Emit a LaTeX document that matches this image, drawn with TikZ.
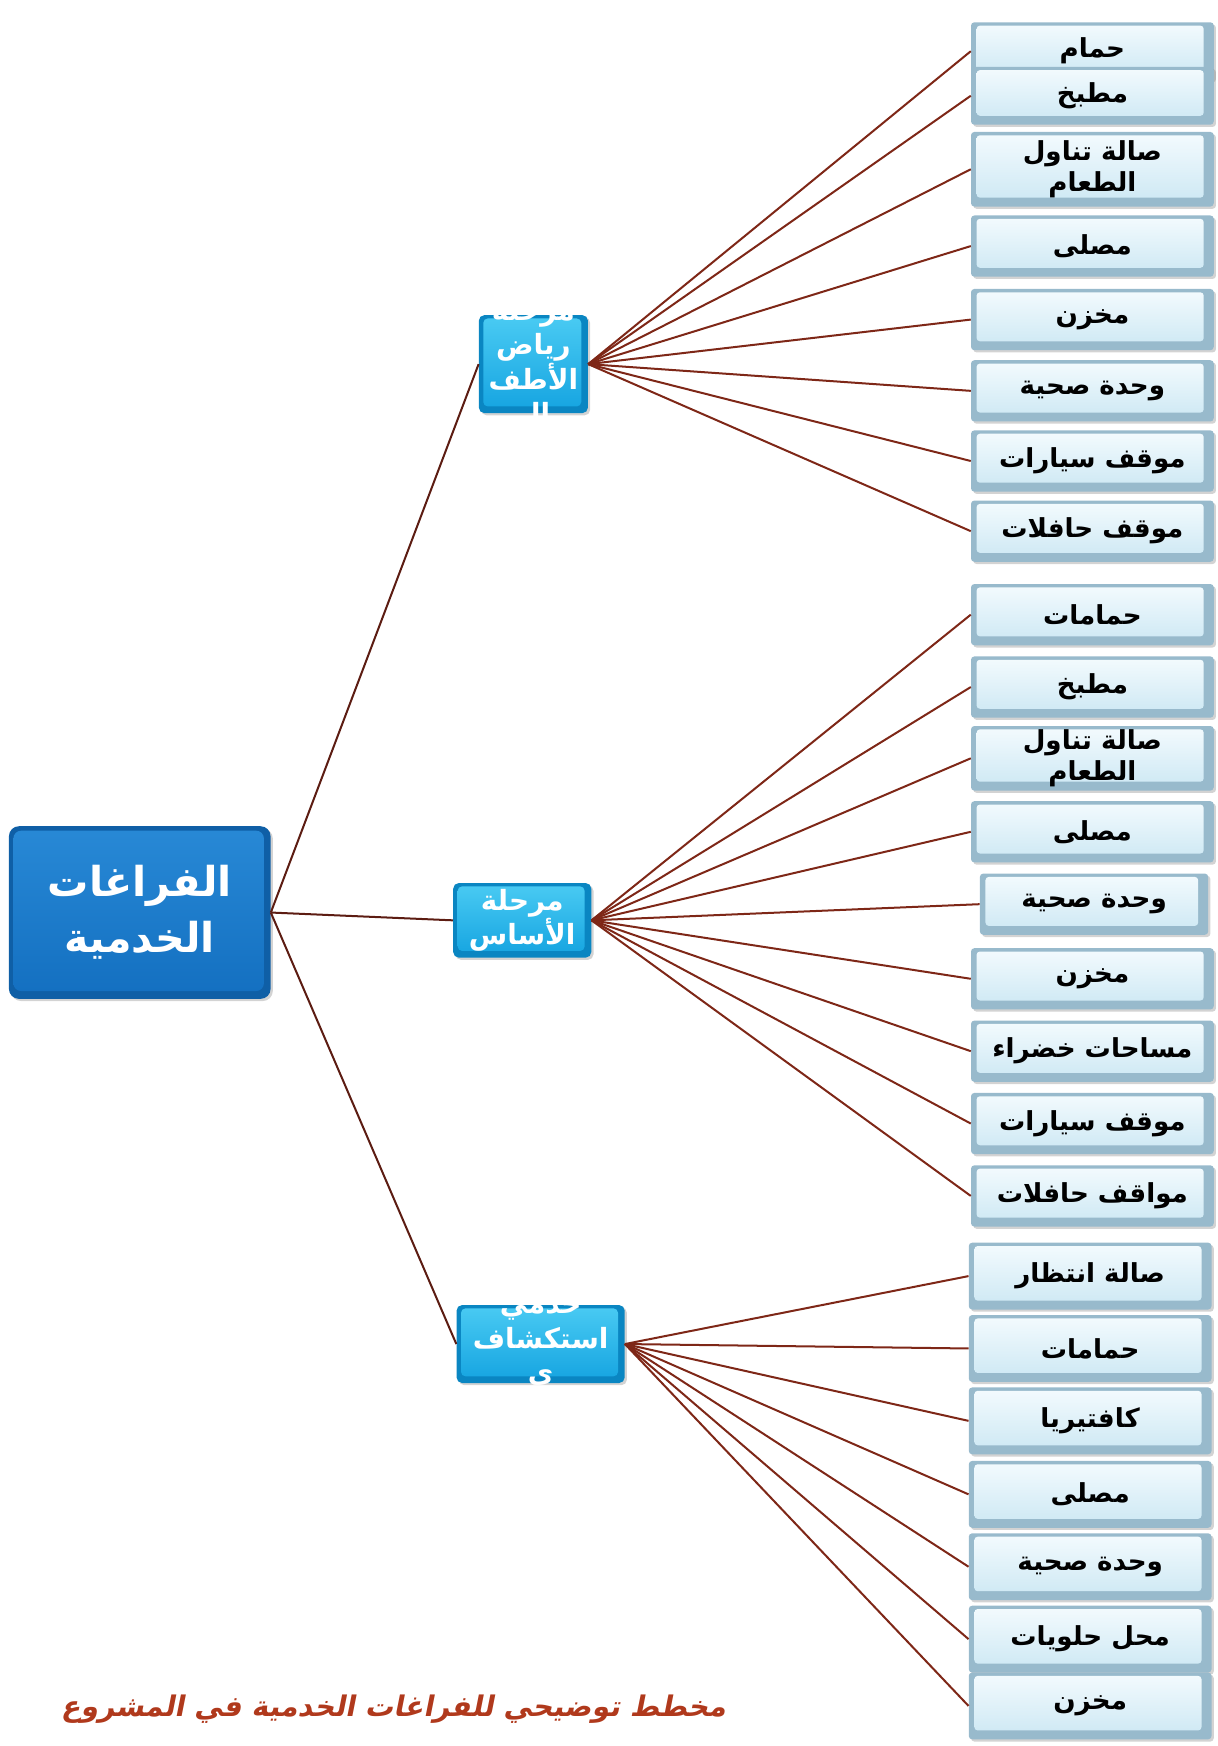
\documentclass[tikz,border=0pt]{standalone}
\usepackage{fontspec}
\usetikzlibrary{shadows}
\TeXXeTstate=1
\newfontfamily\arabicfont[Script=Arabic]{DejaVu Sans}
\newfontfamily\captfont[Script=Arabic,BoldFeatures={FakeSlant=0.2}]{DejaVu Sans}
\newcommand{\artxt}[1]{\beginR#1\endR}
\definecolor{rootlink}{HTML}{5C1C12}
\definecolor{leaflink}{HTML}{7E2717}
\definecolor{rootedge}{HTML}{0F5FA6}
\definecolor{roottop}{HTML}{2889D6}
\definecolor{rootbot}{HTML}{136FC0}
\definecolor{midedge}{HTML}{0A86C2}
\definecolor{midtop}{HTML}{4ACBF3}
\definecolor{midbot}{HTML}{14A3E0}
\definecolor{leafedge}{HTML}{98BACC}
\definecolor{leaftop}{HTML}{F4FBFE}
\definecolor{leafface}{HTML}{CBE7F3}
\definecolor{captred}{HTML}{B0391C}
\tikzset{
	shadowed/.style={drop shadow={opacity=0.35,shadow xshift=2pt,shadow yshift=-2pt}},
	rootbox/.style={rectangle, rounded corners=9pt, fill=rootedge, shadowed, inner sep=0pt,
		minimum width=235pt, minimum height=155pt, align=center, text=white,
		font=\arabicfont\bfseries\fontsize{37}{50}\selectfont,
		path picture={\shade[top color=roottop, bottom color=rootbot, rounded corners=7pt]
			([shift={(4pt,-4pt)}]path picture bounding box.north west) rectangle
			([shift={(-6pt,7pt)}]path picture bounding box.south east);}},
	midbox/.style={rectangle, rounded corners=5pt, fill=midedge, shadowed, inner sep=0pt,
		path picture={\shade[top color=midtop, bottom color=midbot, rounded corners=4pt]
			([shift={(4pt,-3pt)}]path picture bounding box.north west) rectangle
			([shift={(-6pt,6pt)}]path picture bounding box.south east);}},
	midtext/.style={align=center, text=white, inner sep=0pt,
		font=\arabicfont\bfseries\fontsize{25}{31}\selectfont},
	leafbox/.style={rectangle, rounded corners=3pt, fill=leafedge, shadowed, inner sep=0pt,
		minimum width=218pt, minimum height=55pt, align=center,
		font=\arabicfont\bfseries\fontsize{23.5}{28}\selectfont,
		path picture={\shade[top color=leaftop, bottom color=leafface]
			([shift={(5pt,-3pt)}]path picture bounding box.north west) rectangle
			([shift={(-9pt,8pt)}]path picture bounding box.south east);}},
	rootline/.style={draw=rootlink, line width=1.8pt},
	leafline/.style={draw=leaflink, line width=1.8pt}
}
\begin{document}
\begin{tikzpicture}[x=1pt,y=-1pt]
			\useasboundingbox (0,0) rectangle (1093,1568);

			\node[rootbox] (root) at (125.5,819.5) {\artxt{الفراغات}\\\artxt{الخدمية}};

			\node[midbox, minimum width=98pt, minimum height=88pt] (kg) at (479,327) {};
			\node[midtext] (kgtext) at (kg) {\artxt{مرحلة}\\\artxt{رياض}\\\artxt{الأطف}\\\artxt{ال}};
			\node[midbox, minimum width=124pt, minimum height=67pt] (basic) at (469,826.5) {};
			\node[midtext] (basictext) at (basic) {\artxt{مرحلة}\\\artxt{الأساس}};
			\node[midbox, minimum width=151pt, minimum height=70pt] (expl) at (485.5,1207) {};
			\node[midtext] (expltext) at (expl) {\artxt{خدمي}\\\artxt{استكشاف}\\\artxt{ي}};

			\node[leafbox, minimum height=52pt] (k1) at (981,46) {\artxt{حمام}};
			\node[leafbox, minimum height=52pt] (k2) at (981,86) {\artxt{مطبخ}};
			\node[leafbox, minimum height=67pt] (k3) at (981,152) {\artxt{صالة تناول}\\\artxt{الطعام}};
			\node[leafbox] (k4) at (981,221) {\artxt{مصلى}};
			\node[leafbox] (k5) at (981,287) {\artxt{مخزن}};
			\node[leafbox] (k6) at (981,351) {\artxt{وحدة صحية}};
			\node[leafbox] (k7) at (981,414) {\artxt{موقف سيارات}};
			\node[leafbox] (k8) at (981,477) {\artxt{موقف حافلات}};

			\node[leafbox] (b1) at (981,552) {\artxt{حمامات}};
			\node[leafbox] (b2) at (981,617) {\artxt{مطبخ}};
			\node[leafbox, minimum height=58pt] (b3) at (981,681) {\artxt{صالة تناول}\\\artxt{الطعام}};
			\node[leafbox] (b4) at (981,747) {\artxt{مصلى}};
			\node[leafbox, minimum width=205pt] (b5) at (982.5,812) {\artxt{وحدة صحية}};
			\node[leafbox] (b6) at (981,879) {\artxt{مخزن}};
			\node[leafbox] (b7) at (981,944) {\artxt{مساحات خضراء}};
			\node[leafbox] (b8) at (981,1009) {\artxt{موقف سيارات}};
			\node[leafbox] (b9) at (981,1074) {\artxt{مواقف حافلات}};

			\node[leafbox, minimum height=60pt] (s1) at (979,1146) {\artxt{صالة انتظار}};
			\node[leafbox, minimum height=60pt] (s2) at (979,1211) {\artxt{حمامات}};
			\node[leafbox, minimum height=60pt] (s3) at (979,1276) {\artxt{كافتيريا}};
			\node[leafbox, minimum height=60pt] (s4) at (979,1342) {\artxt{مصلى}};
			\node[leafbox, minimum height=60pt] (s5) at (979,1407) {\artxt{وحدة صحية}};
			\node[leafbox, minimum height=60pt] (s6) at (979,1472) {\artxt{محل حلويات}};
			\node[leafbox, minimum height=60pt] (s7) at (979,1532) {\artxt{مخزن}};

			\draw[rootline] (root.east) -- (kg.west);
			\draw[rootline] (root.east) -- (basic.west);
			\draw[rootline] (root.east) -- (expl.west);

			\draw[leafline] (kg.east) -- (k1.west);
			\draw[leafline] (kg.east) -- (k2.west);
			\draw[leafline] (kg.east) -- (k3.west);
			\draw[leafline] (kg.east) -- (k4.west);
			\draw[leafline] (kg.east) -- (k5.west);
			\draw[leafline] (kg.east) -- (k6.west);
			\draw[leafline] (kg.east) -- (k7.west);
			\draw[leafline] (kg.east) -- (k8.west);

			\draw[leafline] (basic.east) -- (b1.west);
			\draw[leafline] (basic.east) -- (b2.west);
			\draw[leafline] (basic.east) -- (b3.west);
			\draw[leafline] (basic.east) -- (b4.west);
			\draw[leafline] (basic.east) -- (b5.west);
			\draw[leafline] (basic.east) -- (b6.west);
			\draw[leafline] (basic.east) -- (b7.west);
			\draw[leafline] (basic.east) -- (b8.west);
			\draw[leafline] (basic.east) -- (b9.west);

			\draw[leafline] (expl.east) -- (s1.west);
			\draw[leafline] (expl.east) -- (s2.west);
			\draw[leafline] (expl.east) -- (s3.west);
			\draw[leafline] (expl.east) -- (s4.west);
			\draw[leafline] (expl.east) -- (s5.west);
			\draw[leafline] (expl.east) -- (s6.west);
			\draw[leafline] (expl.east) -- (s7.west);

			\node[text=captred, font=\captfont\bfseries\fontsize{25.5}{30}\selectfont] (caption) at (353.5,1535) {\artxt{مخطط توضيحي للفراغات الخدمية في المشروع}};

		\end{tikzpicture}
\end{document}
